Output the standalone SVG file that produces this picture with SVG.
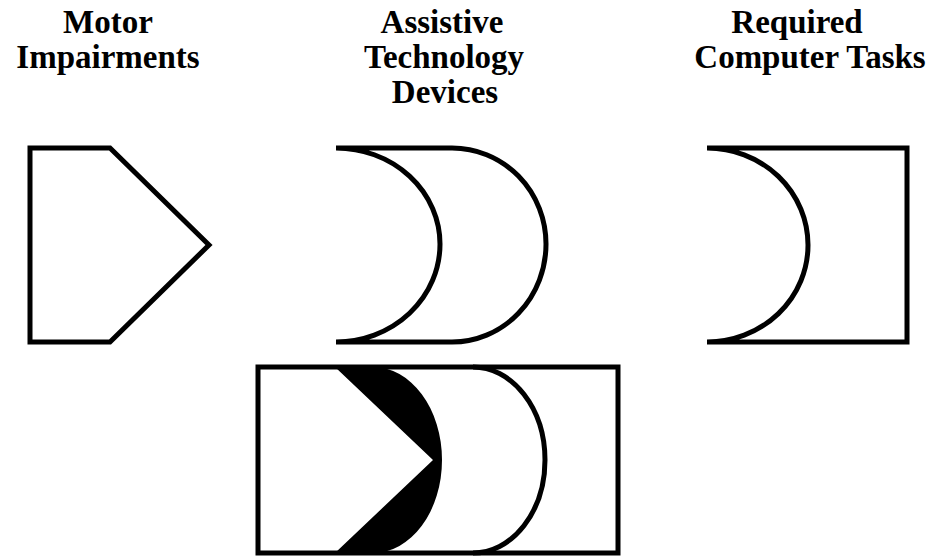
<svg xmlns="http://www.w3.org/2000/svg" width="931" height="560" viewBox="0 0 931 560">
<style>
.lbl{font-family:"Liberation Serif","Times New Roman",serif;font-weight:bold;font-size:33px;fill:#000;text-anchor:middle}
.shp{fill:#fff;stroke:#000;stroke-width:5;stroke-linejoin:miter}
</style>
<rect width="931" height="560" fill="#fff"/>
<g id="label-motor">
<text class="lbl" x="108" y="33">Motor</text>
<text class="lbl" x="108" y="68">Impairments</text>
</g>
<g id="label-assistive">
<text class="lbl" x="442" y="33">Assistive</text>
<text class="lbl" x="444" y="68">Technology</text>
<text class="lbl" x="445" y="103">Devices</text>
</g>
<g id="label-tasks">
<text class="lbl" x="797" y="33">Required</text>
<text class="lbl" x="810" y="68">Computer Tasks</text>
</g>
<g id="node-motor">
<path class="shp" d="M30,148 L110,148 L209,245 L110,342 L30,342 Z"/>
</g>
<g id="node-assistive">
<path class="shp" d="M336,148 L452,148 A94,96 0 0 1 546,244 A94,98 0 0 1 452,342 L336,342 A104,98 0 0 0 440,244 A104,96 0 0 0 336,148 Z"/>
</g>
<g id="node-tasks">
<path class="shp" d="M707,148 L907,148 L907,342 L707,342 A101,97 0 0 0 808,245 A101,97 0 0 0 707,148 Z"/>
</g>
<g id="node-combined">
<rect class="shp" x="258" y="367" width="360" height="186"/>
<path d="M473,367 A72,93 0 0 1 545,460 A72,93 0 0 1 473,553" fill="none" stroke="#000" stroke-width="5"/>
<path d="M335,367 L373,367 A69,93 0 0 1 442,460 A69,93 0 0 1 373,553 L335,553 L433,460 Z" fill="#000"/>
</g>
<g id="connectors"/>
</svg>
